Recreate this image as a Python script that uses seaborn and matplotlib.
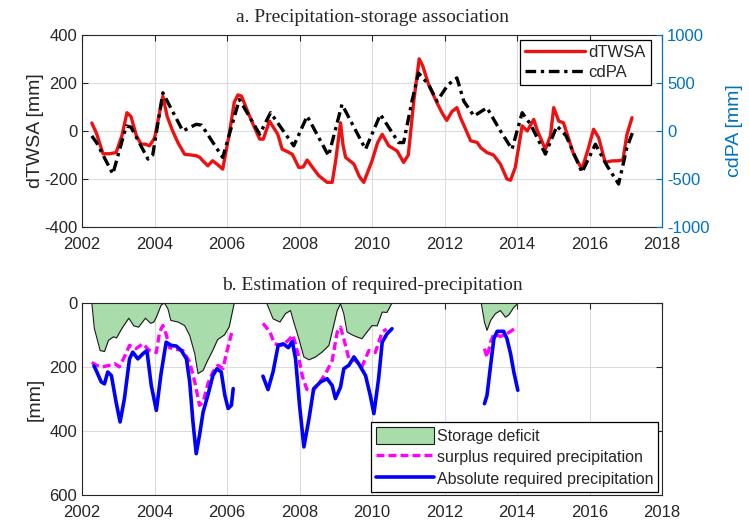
import numpy as np
import pandas as pd
import matplotlib
matplotlib.use("Agg")
import matplotlib.pyplot as plt
from matplotlib.patches import Patch
from matplotlib.lines import Line2D
import seaborn as sns

# ---------------- data ----------------
twsa_year = [2002.27, 2002.4, 2002.58, 2002.75, 2002.94, 2003.1, 2003.24, 2003.35, 2003.5, 2003.63,
             2003.75, 2003.86, 2004.0, 2004.23, 2004.35, 2004.5, 2004.65, 2004.83, 2005.0, 2005.15,
             2005.25, 2005.33, 2005.47, 2005.6, 2005.74, 2005.88, 2006.06, 2006.2, 2006.3, 2006.4,
             2006.6, 2006.8, 2006.9, 2007.0, 2007.17, 2007.3, 2007.4, 2007.52, 2007.65, 2007.8,
             2007.98, 2008.1, 2008.21, 2008.35, 2008.53, 2008.76, 2008.9, 2009.0, 2009.13, 2009.2,
             2009.27, 2009.5, 2009.65, 2009.77, 2010.0, 2010.15, 2010.28, 2010.46, 2010.69, 2010.87,
             2011.0, 2011.15, 2011.3, 2011.4, 2011.56, 2011.79, 2011.95, 2012.06, 2012.2, 2012.34,
             2012.44, 2012.72, 2012.9, 2013.0, 2013.17, 2013.35, 2013.54, 2013.72, 2013.82, 2013.95,
             2014.14, 2014.28, 2014.46, 2014.55, 2014.78, 2014.92, 2015.01, 2015.15, 2015.28, 2015.56,
             2015.79, 2015.97, 2016.11, 2016.25, 2016.43, 2016.6, 2016.8, 2016.92, 2017.03, 2017.17]
twsa_val = [33, -10, -95, -95, -90, -20, 76, 60, -20, -55,
            -55, -62, -30, 145, 60, 0, -50, -97, -100, -103,
            -110, -124, -145, -124, -140, -159, -14, 120, 150, 145,
            69, 0, -34, -34, 41, 10, -14, -76, -85, -97,
            -152, -150, -121, -150, -186, -214, -214, -120, 34, -60,
            -110, -138, -190, -214, -124, -50, -14, -62, -83, -131,
            -100, 124, 300, 270, 193, 117, 70, 44, 80, 97,
            55, -41, -48, -70, -90, -100, -138, -200, -205, -152,
            21, 0, 48, 5, -76, -20, 97, 41, 34, -97,
            -159, -70, 7, -28, -131, -125, -124, -120, -14, 55]

cdpa_year = [2002.27, 2002.4, 2002.85, 2003.22, 2003.35, 2003.82, 2003.95, 2004.23, 2004.78, 2005.15,
             2005.3, 2005.88, 2006.34, 2006.9, 2007.2, 2007.84, 2008.21, 2008.8, 2009.17, 2009.82,
             2010.23, 2010.73, 2010.87, 2011.1, 2011.28, 2011.56, 2011.79, 2012.1, 2012.34, 2012.53,
             2012.81, 2013.17, 2013.54, 2013.86, 2014.14, 2014.37, 2014.78, 2015.1, 2015.35, 2015.79,
             2016.16, 2016.48, 2016.8, 2017.03, 2017.2]
cdpa_val = [-52, -120, -448, 52, 40, -293, -250, 397, 0, 69,
            60, -276, 328, -34, 190, -155, 155, -259, 276, -190,
            172, -121, -121, 310, 603, 483, 310, 483, 552, 310,
            155, 241, 0, -190, 190, 69, -241, 52, -50, -431,
            -138, -362, -552, -172, 0]

deficit_year = [2002.27, 2002.34, 2002.5, 2002.62, 2002.73, 2002.87, 2002.95, 2003.1, 2003.29, 2003.43,
                2003.56, 2003.75, 2003.89, 2003.98, 2004.05, 2004.18, 2004.27, 2004.37, 2004.45, 2004.65,
                2004.83, 2004.97, 2005.11, 2005.2, 2005.34, 2005.46, 2005.6, 2005.74, 2005.93, 2006.06,
                2006.2, 2007.09, 2007.27, 2007.46, 2007.61, 2007.75, 2007.84, 2007.98, 2008.12, 2008.26,
                2008.44, 2008.62, 2008.81, 2008.94, 2009.04, 2009.13, 2009.22, 2009.31, 2009.45, 2009.59,
                2009.72, 2009.86, 2010.0, 2010.14, 2010.28, 2010.41, 2010.55, 2013.01, 2013.1, 2013.17,
                2013.27, 2013.4, 2013.54, 2013.68, 2013.77, 2013.91, 2014.05, 2017.2]
deficit_val = [0, 80, 149, 152, 117, 106, 110, 80, 48, 72,
               76, 48, 64, 60, 45, 8, 0, 19, 55, 60,
               71, 102, 159, 221, 211, 181, 150, 115, 100, 75,
               0, 0, 50, 60, 34, 24, 60, 112, 169, 178,
               169, 154, 133, 71, 24, 3, 34, 91, 100, 107,
               112, 91, 71, 72, 29, 30, 0, 0, 60, 86,
               55, 34, 24, 45, 38, 14, 0, 0]

surplus_seg = [1] * 28 + [2] * 23 + [3] * 8
surplus_year = [2002.27, 2002.4, 2002.57, 2002.76, 2002.9, 2003.03, 2003.17, 2003.31, 2003.49, 2003.68,
                2003.86, 2004.05, 2004.14, 2004.23, 2004.32, 2004.41, 2004.6, 2004.78, 2004.97, 2005.11,
                2005.24, 2005.34, 2005.47, 2005.61, 2005.75, 2005.89, 2005.98, 2006.14,
                2006.99, 2007.18, 2007.31, 2007.5, 2007.69, 2007.82, 2007.96, 2008.08, 2008.2, 2008.35,
                2008.53, 2008.72, 2008.9, 2009.04, 2009.13, 2009.22, 2009.36, 2009.54, 2009.72, 2009.91,
                2010.09, 2010.28, 2010.4,
                2013.1, 2013.17, 2013.27, 2013.36, 2013.54, 2013.72, 2013.86, 2014.0]
surplus_val = [186, 195, 200, 195, 190, 200, 169, 133, 143, 128,
               149, 155, 91, 71, 97, 140, 145, 149, 185, 247,
               320, 310, 253, 216, 195, 205, 159, 88,
               64, 90, 128, 133, 117, 101, 160, 230, 270, 277,
               252, 221, 180, 91, 76, 112, 175, 180, 200, 149,
               155, 91, 82,
               143, 170, 123, 97, 105, 97, 86, 76]

absolute_seg = [1] * 35 + [2] * 28 + [3] * 10
absolute_year = [2002.33, 2002.39, 2002.53, 2002.62, 2002.71, 2002.81, 2002.94, 2003.05, 2003.17, 2003.31,
                 2003.4, 2003.54, 2003.68, 2003.79, 2003.91, 2004.05, 2004.18, 2004.32, 2004.46, 2004.6,
                 2004.74, 2004.88, 2004.97, 2005.06, 2005.15, 2005.24, 2005.34, 2005.47, 2005.61, 2005.72,
                 2005.84, 2005.94, 2006.03, 2006.12, 2006.17,
                 2006.99, 2007.13, 2007.27, 2007.41, 2007.55, 2007.69, 2007.8, 2007.89, 2008.0, 2008.12,
                 2008.26, 2008.39, 2008.58, 2008.76, 2008.9, 2008.99, 2009.13, 2009.22, 2009.36, 2009.5,
                 2009.63, 2009.82, 2009.95, 2010.05, 2010.18, 2010.28, 2010.41, 2010.55,
                 2013.1, 2013.17, 2013.27, 2013.36, 2013.45, 2013.63, 2013.72, 2013.82, 2013.91, 2014.02]
absolute_val = [197, 211, 247, 253, 216, 227, 310, 372, 299, 175,
                154, 175, 159, 149, 258, 336, 221, 123, 133, 135,
                149, 175, 247, 372, 471, 414, 341, 289, 227, 206,
                216, 289, 330, 320, 268,
                229, 271, 215, 133, 128, 140, 120, 175, 320, 450,
                362, 268, 247, 237, 258, 299, 263, 206, 195, 169,
                190, 227, 289, 346, 237, 123, 97, 81,
                315, 289, 195, 112, 89, 89, 112, 159, 216, 273]

left_ticks = [-400, -200, 0, 200, 400]
right_ticks = [-1000, -500, 0, 500, 1000]
bottom_ticks = [0, 200, 400, 600]
x_ticks = [2002, 2004, 2006, 2008, 2010, 2012, 2014, 2016, 2018]

# ---------------- style ----------------
sns.set_style("white")
plt.rcParams['font.family'] = ['Liberation Sans', 'DejaVu Sans']
plt.rcParams['axes.unicode_minus'] = False
plt.rcParams['lines.solid_joinstyle'] = 'round'
plt.rcParams['lines.dash_joinstyle'] = 'round'

MBLUE = '#0072bd'
TXT = '#262626'
GRID = '#dcdcdc'
SERIF = ['Liberation Serif', 'DejaVu Serif']

fig = plt.figure(figsize=(7.49, 5.28), dpi=100)
ax1 = fig.add_axes([0.1095, 0.570, 0.7745, 0.364])
ax3 = fig.add_axes([0.1095, 0.0625, 0.7745, 0.364])

df_t = pd.DataFrame({'year': twsa_year, 'val': twsa_val})
df_c = pd.DataFrame({'year': cdpa_year, 'val': cdpa_val})

# --- panel a
sns.lineplot(data=df_t, x='year', y='val', ax=ax1, color='#ee1111', lw=2.4,
             estimator=None, sort=False, legend=False, zorder=4)
ax1.set_xlim(2002, 2018)
ax1.set_ylim(-400, 400)
ax1.set_yticks(left_ticks)
ax1.set_xticks(x_ticks)
ax1.set_ylabel('dTWSA [mm]', fontsize=14, color=TXT, labelpad=0)
ax1.set_xlabel('')
ax1.grid(True, color=GRID, lw=0.8)
ax1.set_axisbelow(True)

ax2 = ax1.twinx()
sns.lineplot(data=df_c, x='year', y='val', ax=ax2, color='black', lw=2.4,
             estimator=None, sort=False, legend=False, zorder=3)
ax2.lines[0].set_dashes([3.2, 1.4, 1.0, 1.4])
ax2.set_ylim(-1000, 1000)
ax2.set_yticks(right_ticks)
ax2.set_ylabel('cdPA [mm]', fontsize=14, color=MBLUE, rotation=90, labelpad=12)
ax2.set_xlabel('')
ax2.tick_params(axis='y', colors=MBLUE, direction='in', labelsize=12, length=4)
ax2.spines['right'].set_color(MBLUE)
for s in ['top', 'left', 'bottom']:
    ax2.spines[s].set_visible(False)
ax2.set_zorder(ax1.get_zorder() + 1)

ax1.tick_params(axis='both', colors=TXT, direction='in', labelsize=12, length=4,
                top=True, right=False)
ax1.tick_params(axis='x', pad=7)
for s in ax1.spines.values():
    s.set_color(TXT)
    s.set_linewidth(0.8)
ax2.spines['right'].set_linewidth(0.8)
ax1.set_title('a. Precipitation-storage association', fontsize=14,
              family=SERIF, pad=9)

h1 = [Line2D([0], [0], color='#ee1111', lw=2.4),
      Line2D([0], [0], color='black', lw=2.4, dashes=[3.2, 1.4, 1.0, 1.4])]
leg1 = ax2.legend(h1, ['dTWSA', 'cdPA'], loc='upper right', bbox_to_anchor=(0.981, 0.974),
                  borderaxespad=0, fontsize=12, frameon=True, fancybox=False,
                  edgecolor='black', framealpha=1, handlelength=3.6, handletextpad=0.2,
                  borderpad=0.3, labelspacing=0.3)
leg1.get_frame().set_linewidth(0.9)

# --- panel b
df_d = pd.DataFrame({'year': deficit_year, 'val': deficit_val})
df_s = pd.DataFrame({'year': surplus_year, 'val': surplus_val, 'seg': surplus_seg})
df_a = pd.DataFrame({'year': absolute_year, 'val': absolute_val, 'seg': absolute_seg})

ax3.fill_between(df_d['year'], 0, df_d['val'], color='#a8dcaa', lw=0, zorder=2)
sns.lineplot(data=df_d, x='year', y='val', ax=ax3, color='#1a1a1a', lw=0.8,
             estimator=None, sort=False, legend=False, zorder=3)
sns.lineplot(data=df_s, x='year', y='val', units='seg', ax=ax3, color='#ff00ff', lw=2.4,
             estimator=None, sort=False, legend=False, zorder=4)
for ln in ax3.lines[1:]:
    ln.set_dashes([2.4, 1.2])
sns.lineplot(data=df_a, x='year', y='val', units='seg', ax=ax3, color='#0000ff', lw=2.6,
             estimator=None, sort=False, legend=False, zorder=5)

ax3.set_xlim(2002, 2018)
ax3.set_ylim(600, 0)
ax3.set_yticks(bottom_ticks)
ax3.set_xticks(x_ticks)
ax3.set_ylabel('[mm]', fontsize=14, color=TXT, labelpad=4)
ax3.set_xlabel('')
ax3.grid(True, color=GRID, lw=0.8)
ax3.set_axisbelow(True)
ax3.tick_params(axis='both', colors=TXT, direction='in', labelsize=12, length=4,
                top=True, right=True)
ax3.tick_params(axis='x', pad=7)
for s in ax3.spines.values():
    s.set_color(TXT)
    s.set_linewidth(0.8)
ax3.set_title('b. Estimation of required-precipitation', fontsize=14,
              family=SERIF, pad=9)

h2 = [Patch(facecolor='#a8dcaa', edgecolor='#1a1a1a', lw=0.8),
      Line2D([0], [0], color='#ff00ff', lw=2.4, dashes=[2.4, 1.2]),
      Line2D([0], [0], color='#0000ff', lw=2.6)]
leg2 = ax3.legend(h2, ['Storage deficit', 'surplus required precipitation',
                       'Absolute required precipitation'],
                  loc='lower right', bbox_to_anchor=(0.993, 0.016), borderaxespad=0,
                  fontsize=11.5, frameon=True, fancybox=False, edgecolor='black',
                  framealpha=1, handlelength=3.6, handleheight=1.3, handletextpad=0.2,
                  borderpad=0.3, labelspacing=0.25)
leg2.get_frame().set_linewidth(0.9)
leg2.set_zorder(10)

fig.savefig('out.png', dpi=100)
